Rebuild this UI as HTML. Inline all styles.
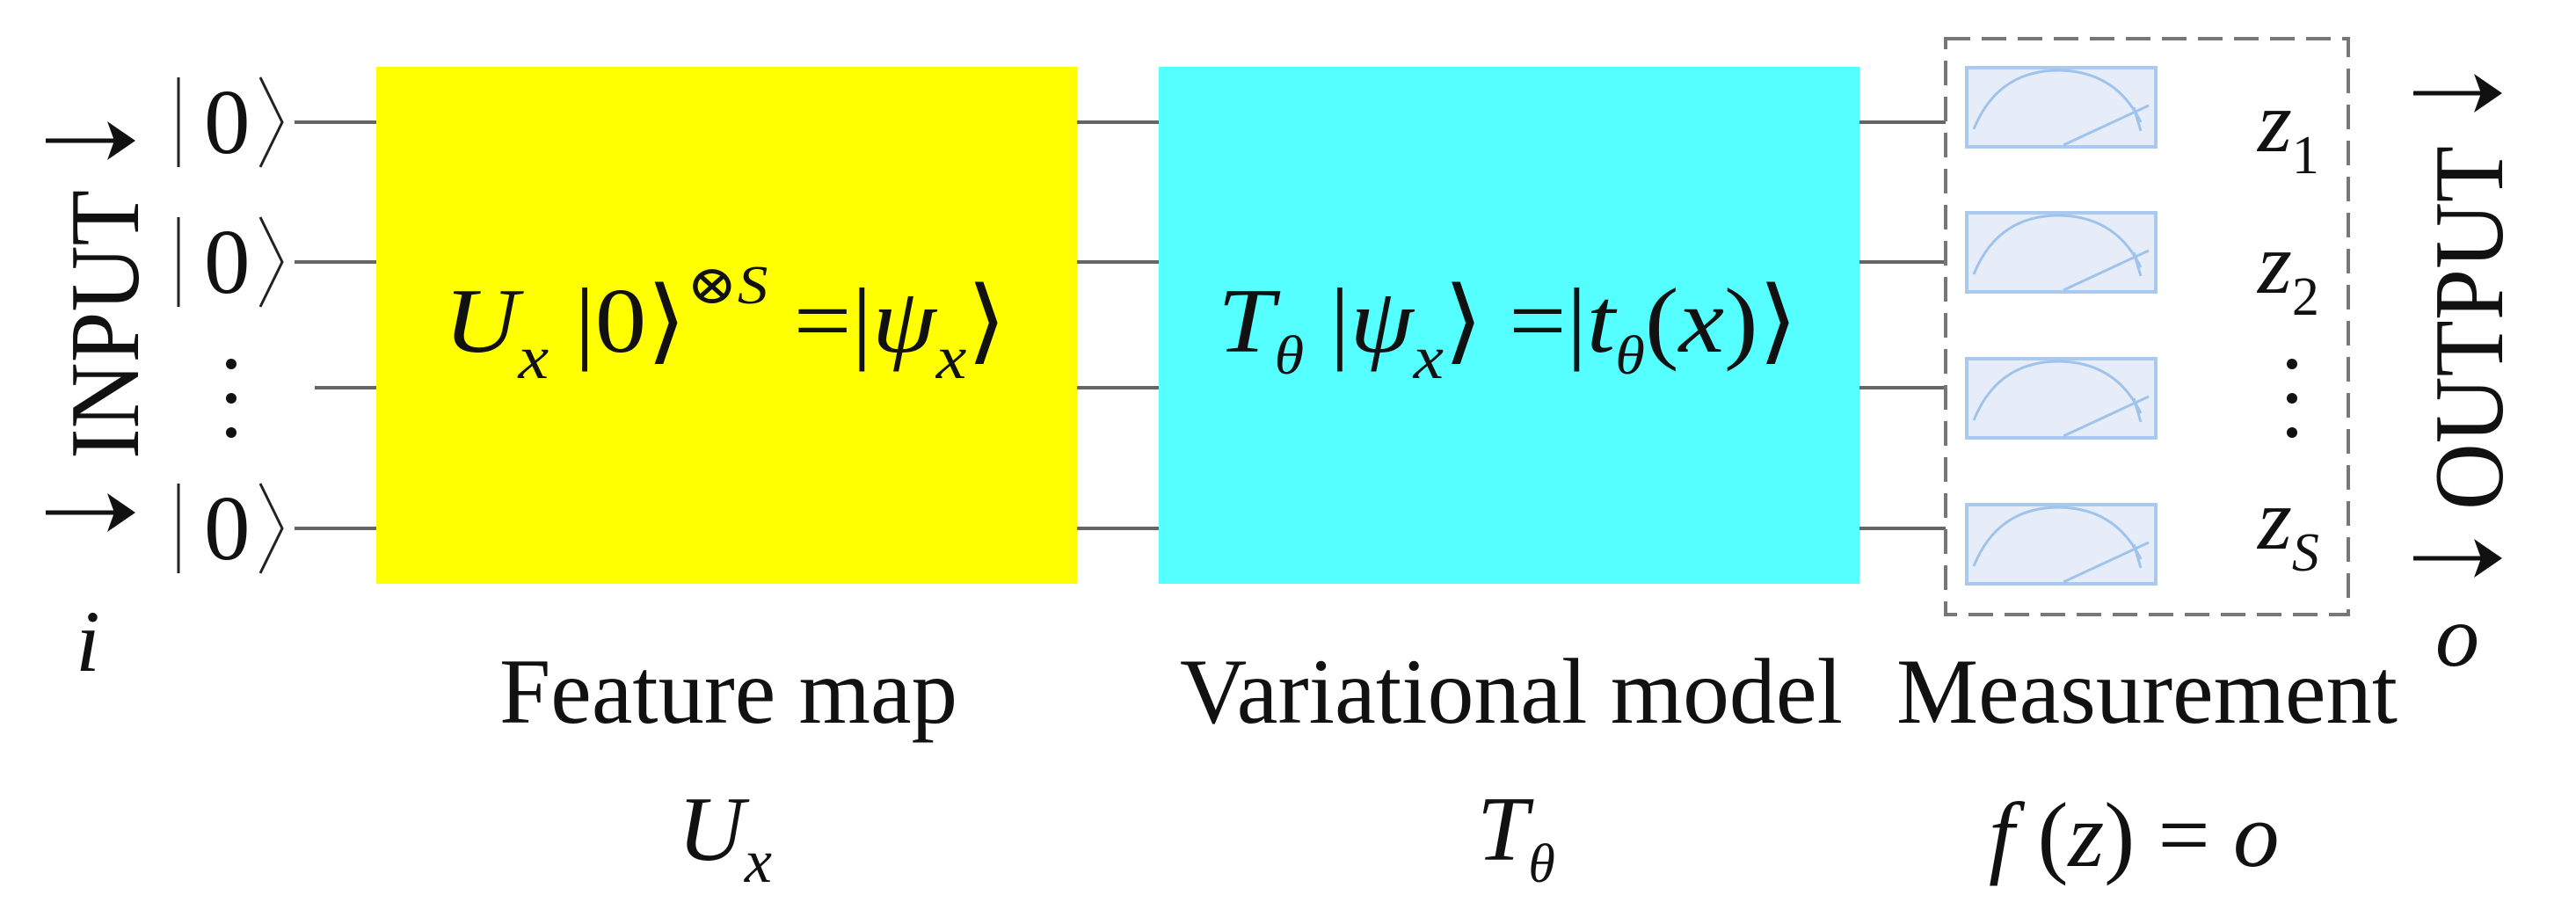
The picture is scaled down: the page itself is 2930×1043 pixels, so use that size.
<!DOCTYPE html>
<html><head><meta charset="utf-8"><style>
html,body{margin:0;padding:0;background:#fff;}
svg{display:block;}
text{font-family:"Liberation Serif","DejaVu Serif",serif;fill:#111;}
.it{font-style:italic;}
</style></head><body>
<svg width="2930" height="1043" viewBox="0 0 2930 1043" xmlns="http://www.w3.org/2000/svg">
<defs>
<g id="meter">
<rect x="0" y="0" width="215" height="90" fill="#e6edf8" stroke="#a9c9ee" stroke-width="4"/>
<path d="M8,70 Q35,3 105,3 Q170,4 198,62" fill="none" stroke="#9fc3ea" stroke-width="3"/>
<path d="M110,88 L207,43" fill="none" stroke="#9fc3ea" stroke-width="3"/>
<path d="M190,45 L198,72" fill="none" stroke="#9fc3ea" stroke-width="3"/>
</g>
</defs>
<!-- wires -->
<g stroke="#666" stroke-width="4">
<line x1="335" y1="139" x2="430" y2="139"/>
<line x1="335" y1="298" x2="430" y2="298"/>
<line x1="358" y1="441" x2="430" y2="441"/>
<line x1="335" y1="601" x2="430" y2="601"/>
<line x1="1225" y1="139" x2="1318" y2="139"/>
<line x1="1225" y1="298" x2="1318" y2="298"/>
<line x1="1225" y1="441" x2="1318" y2="441"/>
<line x1="1225" y1="601" x2="1318" y2="601"/>
<line x1="2115" y1="139" x2="2213" y2="139"/>
<line x1="2115" y1="298" x2="2213" y2="298"/>
<line x1="2115" y1="441" x2="2213" y2="441"/>
<line x1="2115" y1="601" x2="2213" y2="601"/>
</g>
<rect x="428" y="76" width="797" height="588" fill="#ffff00"/>
<rect x="1318" y="76" width="797" height="588" fill="#55ffff"/>
<!-- kets -->
<g stroke="#222" stroke-width="3" fill="none">
<line x1="203" y1="88" x2="203" y2="190"/><path d="M296,88 L321,139 L296,190"/>
<line x1="203" y1="247" x2="203" y2="349"/><path d="M296,247 L321,298 L296,349"/>
<line x1="203" y1="550" x2="203" y2="652"/><path d="M296,550 L321,601 L296,652"/>
</g>
<g font-size="105">
<text x="232" y="174">0</text>
<text x="232" y="333">0</text>
<text x="232" y="636">0</text>
</g>
<g fill="#111"><circle cx="263" cy="414" r="6"/><circle cx="263" cy="453" r="6"/><circle cx="263" cy="492" r="6"/>
<circle cx="2607" cy="414" r="6"/><circle cx="2607" cy="453" r="6"/><circle cx="2607" cy="492" r="6"/></g>
<!-- arrows -->
<g stroke="#111" stroke-width="5">
<line x1="52" y1="160" x2="140" y2="160"/>
<line x1="52" y1="583" x2="140" y2="583"/>
<line x1="2745" y1="106" x2="2832" y2="106"/>
<line x1="2745" y1="635" x2="2832" y2="635"/>
</g>
<g fill="#111">
<path d="M122,138 L154,160 L122,182 L130,160 Z"/>
<path d="M122,561 L154,583 L122,605 L130,583 Z"/>
<path d="M2814,84 L2846,106 L2814,128 L2822,106 Z"/>
<path d="M2814,613 L2846,635 L2814,657 L2822,635 Z"/>
</g>
<text font-size="112" transform="translate(157,522) rotate(-90)" textLength="306" lengthAdjust="spacingAndGlyphs">INPUT</text>
<text font-size="112" transform="translate(2846,580) rotate(-90)" textLength="414" lengthAdjust="spacingAndGlyphs">OUTPUT</text>
<text class="it" font-size="100" x="86" y="763">i</text>
<text class="it" font-size="100" x="2770" y="757">o</text>
<!-- equations -->
<text font-size="105" x="505" y="400" textLength="640" lengthAdjust="spacingAndGlyphs"><tspan class="it">U</tspan><tspan class="it" font-size="70" dy="30">x</tspan><tspan dy="-30"> |0⟩</tspan><tspan font-size="62" dy="-55">⊗</tspan><tspan class="it" font-size="62">S</tspan><tspan dy="55"> =|</tspan><tspan class="it">ψ</tspan><tspan class="it" font-size="70" dy="30">x</tspan><tspan dy="-30">⟩</tspan></text>
<text font-size="105" x="1385" y="400" textLength="660" lengthAdjust="spacingAndGlyphs"><tspan class="it">T</tspan><tspan class="it" font-size="62" dy="25">θ</tspan><tspan dy="-25"> |</tspan><tspan class="it">ψ</tspan><tspan class="it" font-size="70" dy="30">x</tspan><tspan dy="-30">⟩ =|</tspan><tspan class="it">t</tspan><tspan class="it" font-size="62" dy="25">θ</tspan><tspan dy="-25">(</tspan><tspan class="it">x</tspan><tspan>)⟩</tspan></text>
<!-- measurement -->
<rect x="2213" y="44" width="458" height="655" fill="none" stroke="#777" stroke-width="4" stroke-dasharray="28,13"/>
<use href="#meter" x="2237" y="77"/>
<use href="#meter" x="2237" y="242"/>
<use href="#meter" x="2237" y="408"/>
<use href="#meter" x="2237" y="574"/>
<g font-size="100">
<text x="2568" y="172"><tspan class="it">z</tspan><tspan font-size="62" dy="25">1</tspan></text>
<text x="2568" y="333"><tspan class="it">z</tspan><tspan font-size="62" dy="25">2</tspan></text>
<text x="2568" y="624"><tspan class="it">z</tspan><tspan class="it" font-size="62" dy="25">S</tspan></text>
</g>
<!-- labels -->
<g font-size="106">
<text x="568" y="822" textLength="521" lengthAdjust="spacingAndGlyphs">Feature map</text>
<text x="1342" y="822" textLength="754" lengthAdjust="spacingAndGlyphs">Variational model</text>
<text x="2157" y="822" textLength="570" lengthAdjust="spacingAndGlyphs">Measurement</text>
</g>
<text font-size="105" x="771" y="978"><tspan class="it">U</tspan><tspan class="it" font-size="70" dy="25">x</tspan></text>
<text font-size="105" x="1680" y="978"><tspan class="it">T</tspan><tspan class="it" font-size="62" dy="25">θ</tspan></text>
<text font-size="105" x="2262" y="985"><tspan class="it">f</tspan><tspan> (</tspan><tspan class="it">z</tspan><tspan>) = </tspan><tspan class="it">o</tspan></text>
</svg>
</body></html>
